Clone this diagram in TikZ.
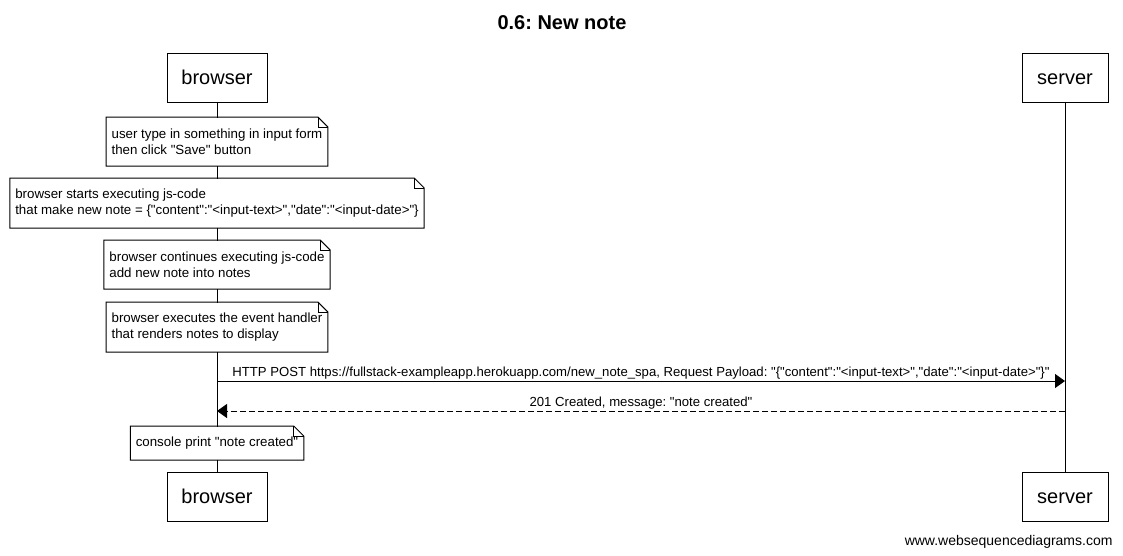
\documentclass[tikz,border=0pt]{standalone}
\usepackage{fontspec}
\newfontfamily\wsd{Liberation Sans}
\usetikzlibrary{arrows.meta}
\newcommand\dogear[1]{%
  \draw (#1.north west) -- ([xshift=-10pt]#1.north east) -- ([yshift=-10pt]#1.north east) -- (#1.south east) -- (#1.south west) -- cycle;
  \draw[line width=0.6pt] ([xshift=-10pt]#1.north east) |- ([yshift=-10pt]#1.north east);}
\begin{document}
\frenchspacing
\begin{tikzpicture}[x=1pt,y=-1pt,line width=1pt,
  actorbox/.style={draw,fill=white,minimum height=49pt,inner sep=0pt,text height=16pt,text depth=3pt,font=\wsd\fontsize{20}{24}\selectfont},
  notebox/.style={anchor=north,fill=white,inner xsep=5pt,inner ysep=0pt,align=left,font=\wsd\fontsize{13.3}{16}\selectfont},
  msglabel/.style={midway,above,inner sep=1.5pt,font=\wsd\fontsize{13.15}{16}\selectfont},
  reqarrow/.style={-{Triangle[length=10pt,width=14pt]}},
  resarrow/.style={-{Triangle[length=10pt,width=14pt]},dash pattern=on 6pt off 3pt}]
\useasboundingbox (0,0) rectangle (1123,555);
% title
\node[anchor=base,font=\wsd\fontsize{20}{24}\selectfont\bfseries] (title) at (562,29) {0.6: New note};
% actors
\node[actorbox,minimum width=100pt] (bt) at (217,77.5) {browser};
\node[actorbox,minimum width=86pt] (st) at (1065,77.5) {server};
\node[actorbox,minimum width=100pt] (bb) at (217,496.5) {browser};
\node[actorbox,minimum width=86pt] (sb) at (1065,496.5) {server};
% lifelines
\draw (bt.south) -- (bb.north);
\draw (st.south) -- (sb.north);
% notes
\node[notebox,minimum height=48pt] (n1) at (217,117) {user type in something in input form\\then click "Save" button};
\dogear{n1}
\node[notebox,minimum height=49pt] (n2) at (217,178) {browser starts executing js-code\\that make new note = \{"content":"<input-text>","date":"<input-date>"\}};
\dogear{n2}
\node[notebox,minimum height=48pt] (n3) at (217,240) {browser continues executing js-code\\add new note into notes};
\dogear{n3}
\node[notebox,minimum height=49pt] (n4) at (217,302) {browser executes the event handler\\that renders notes to display};
\dogear{n4}
% messages
\coordinate (b1) at (217,381);
\coordinate (s1) at (1065,381);
\coordinate (b2) at (217,411);
\coordinate (s2) at (1065,411);
\draw[reqarrow] (b1) -- node[msglabel] (m1) {HTTP POST https://fullstack-exampleapp.herokuapp.com/new\_note\_spa, Request Payload: "\{"content":"<input-text>","date":"<input-date>"\}"} (s1);
\draw[resarrow] (s2) -- node[msglabel] (m2) {201 Created, message: "note created"} (b2);
\node[notebox,minimum height=33pt] (n5) at (217,426) {console print "note created"};
\dogear{n5}
% footer
\node[anchor=base east,inner sep=0pt,font=\wsd\fontsize{14}{16}\selectfont] (foot) at (1113,545) {www.websequencediagrams.com};
\end{tikzpicture}
\end{document}
